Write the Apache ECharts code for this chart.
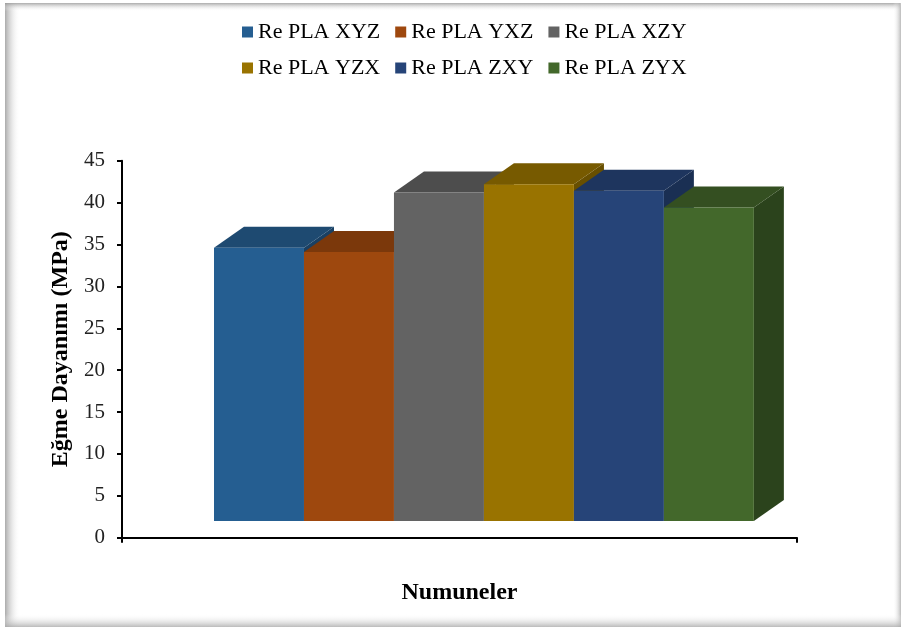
<!DOCTYPE html>
<html>
<head>
<meta charset="utf-8">
<script src="https://cdn.jsdelivr.net/npm/echarts@6/dist/echarts.min.js"></script>
<style>html,body{margin:0;padding:0;background:#fff;}#c{width:905px;height:631px;}</style>
</head>
<body>
<div id="c"></div>
<script>
// ---- data ----
const categories = ['Numuneler'];
const seriesNames = ['Re PLA XYZ', 'Re PLA YXZ', 'Re PLA XZY', 'Re PLA YZX', 'Re PLA ZXY', 'Re PLA ZYX'];
const seriesValues = [34.6, 34.1, 41.2, 42.2, 41.4, 39.4];
const yTicks = [0, 5, 10, 15, 20, 25, 30, 35, 40, 45];

// ---- styles ----
const frontColors = ['#255E91', '#9E480E', '#636363', '#997300', '#264478', '#43682B'];
const topColors   = ['#1E4A71', '#7B380B', '#4D4D4D', '#775A00', '#1E355E', '#344F21'];
const sideColors  = ['#1A4063', '#6C310A', '#444444', '#684F00', '#1A2F53', '#2B431C'];
const FLOOR = 2;          // visual floor of the pseudo-3D bars
const DX = 30, DY = 21;   // depth offset
const LEFT_FRAC = 0.1363, W_FRAC = 0.1333;
const serif = '"Liberation Serif", "Times New Roman", serif';

const chart = echarts.init(document.getElementById('c'), null, {renderer: 'canvas'});

function makeRender(i) {
  return function (params, api) {
    const v = api.value(1);
    const c = api.coord([api.value(0), v]);
    const base = api.coord([api.value(0), FLOOR]);
    const band = api.size([1, 0])[0];
    const x0 = c[0] - band / 2 + band * (LEFT_FRAC + i * W_FRAC);
    const x1 = x0 + band * W_FRAC;
    const yT = c[1], yB = base[1];
    return {
      type: 'group',
      children: [
        {type: 'polygon', shape: {points: [[x1, yT], [x1 + DX, yT - DY], [x1 + DX, yB - DY], [x1, yB]]},
         style: {fill: sideColors[i]}},
        {type: 'polygon', shape: {points: [[x0, yT], [x1, yT], [x1 + DX, yT - DY], [x0 + DX, yT - DY]]},
         style: {fill: topColors[i]}},
        {type: 'rect', shape: {x: x0, y: yT, width: x1 - x0, height: yB - yT},
         style: {fill: frontColors[i]}}
      ]
    };
  };
}

const series = seriesNames.map((name, i) => ({
  name: name,
  type: 'custom',
  clip: false,
  itemStyle: {color: frontColors[i]},
  renderItem: makeRender(i),
  encode: {x: 0, y: 1},
  data: [[0, seriesValues[i]]]
}));

const legendCommon = {
  icon: 'rect', itemWidth: 11, itemHeight: 11, itemGap: 15,
  textStyle: {fontFamily: serif, fontSize: 22, color: '#000'},
  left: 237
};

chart.setOption({
  animation: false,
  backgroundColor: '#fff',
  graphic: [
    {type: 'rect', shape: {x: 5, y: 3, width: 15, height: 624}, silent: true,
     style: {fill: new echarts.graphic.LinearGradient(0, 0, 1, 0, [{offset: 0, color: 'rgba(150,150,150,0.8)'}, {offset: 1, color: 'rgba(255,255,255,0)'}])}},
    {type: 'rect', shape: {x: 5, y: 3, width: 895, height: 8}, silent: true,
     style: {fill: new echarts.graphic.LinearGradient(0, 0, 0, 1, [{offset: 0, color: 'rgba(150,150,150,0.8)'}, {offset: 1, color: 'rgba(255,255,255,0)'}])}},
    {type: 'rect', shape: {x: 893, y: 3, width: 8, height: 624}, silent: true,
     style: {fill: new echarts.graphic.LinearGradient(0, 0, 1, 0, [{offset: 0, color: 'rgba(255,255,255,0)'}, {offset: 1, color: 'rgba(170,170,170,0.8)'}])}},
    {type: 'rect', shape: {x: 5, y: 614, width: 896, height: 13}, silent: true,
     style: {fill: new echarts.graphic.LinearGradient(0, 0, 0, 1, [{offset: 0, color: 'rgba(255,255,255,0)'}, {offset: 1, color: 'rgba(170,170,170,0.8)'}])}}
  ],
  legend: [
    Object.assign({}, legendCommon, {top: 16, data: seriesNames.slice(0, 3)}),
    Object.assign({}, legendCommon, {top: 52, data: seriesNames.slice(3, 6)})
  ],
  grid: {left: 122, right: 108, top: 160.7, bottom: 93.3},
  xAxis: {
    type: 'category',
    data: categories,
    name: 'Numuneler',
    nameLocation: 'middle',
    nameGap: 43,
    nameTextStyle: {fontFamily: serif, fontSize: 24, fontWeight: 'bold', color: '#000'},
    axisLine: {lineStyle: {color: '#000', width: 2}},
    axisTick: {show: true, length: 5, lineStyle: {color: '#000', width: 2}},
    axisLabel: {show: false},
    splitLine: {show: false}
  },
  yAxis: {
    type: 'value',
    min: yTicks[0],
    max: yTicks[yTicks.length - 1],
    interval: 5,
    name: 'Eğme Dayanımı (MPa)',
    nameLocation: 'middle',
    nameGap: 47,
    nameTextStyle: {fontFamily: serif, fontSize: 24, fontWeight: 'bold', color: '#000'},
    axisLine: {show: true, lineStyle: {color: '#000', width: 2}},
    axisTick: {show: true, length: 5, lineStyle: {color: '#000', width: 2}},
    axisLabel: {fontFamily: serif, fontSize: 21, color: '#222', margin: 17},
    splitLine: {show: false}
  },
  series: series
});
</script>
</body>
</html>
